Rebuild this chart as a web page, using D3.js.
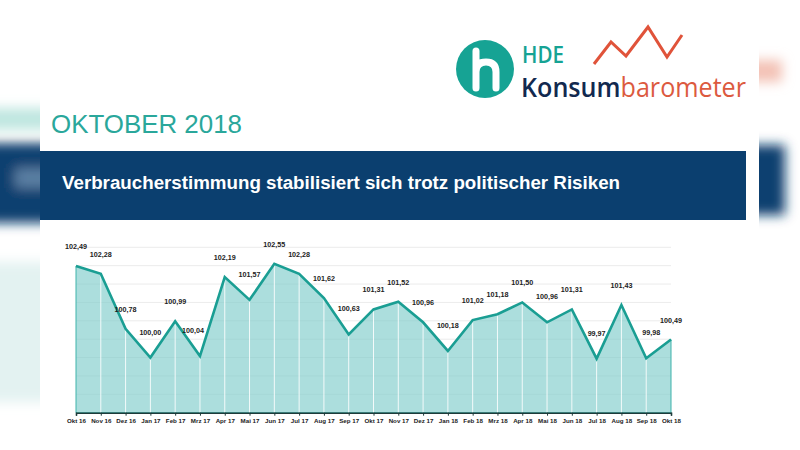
<!DOCTYPE html>
<html><head><meta charset="utf-8">
<script src="https://cdn.jsdelivr.net/npm/d3@7"></script>
<style>html,body{margin:0;padding:0;background:#fff;}svg{display:block;}</style>
</head><body>
<svg id="c" width="800" height="450"></svg>
<script>
const months = ["Okt 16","Nov 16","Dez 16","Jan 17","Feb 17","Mrz 17","Apr 17","Mai 17","Jun 17","Jul 17","Aug 17","Sep 17","Okt 17","Nov 17","Dez 17","Jan 18","Feb 18","Mrz 18","Apr 18","Mai 18","Jun 18","Jul 18","Aug 18","Sep 18","Okt 18"];
const values = [102.49,102.28,100.78,100.00,100.99,100.04,102.19,101.57,102.55,102.28,101.62,100.63,101.31,101.52,100.96,100.18,101.02,101.18,101.50,100.96,101.31,99.97,101.43,99.98,100.49];
const gridTicks = [99,99.5,100,100.5,101,101.5,102,102.5,103];
const headline = "OKTOBER 2018";
const bannerText = "Verbraucherstimmung stabilisiert sich trotz politischer Risiken";

const svg = d3.select("#c");
const defs = svg.append("defs");
defs.append("filter").attr("id","blur").attr("x","-50%").attr("y","-50%").attr("width","200%").attr("height","200%")
  .append("feGaussianBlur").attr("stdDeviation",6);

// blurred side margins (background photo edges)
const side = svg.append("g");
defs.append("clipPath").attr("id","leftClip").append("rect").attr("x",0).attr("y",0).attr("width",40).attr("height",450);
defs.append("clipPath").attr("id","rightClip").append("rect").attr("x",759).attr("y",0).attr("width",41).attr("height",450);
const L = side.append("g").attr("clip-path","url(#leftClip)").append("g").attr("filter","url(#blur)");
L.append("rect").attr("x",-30).attr("y",108).attr("width",90).attr("height",22).attr("fill","#bfe6e0");
L.append("rect").attr("x",-30).attr("y",143).attr("width",90).attr("height",80).attr("fill","#0b3f6f");
L.append("rect").attr("x",15).attr("y",168).attr("width",40).attr("height",20).attr("fill","#5a7fa3");
L.append("rect").attr("x",-30).attr("y",262).attr("width",90).attr("height",140).attr("fill","#e3f2f1");
const R = side.append("g").attr("clip-path","url(#rightClip)").append("g").attr("filter","url(#blur)");
R.append("rect").attr("x",740).attr("y",60).attr("width",42).attr("height",22).attr("fill","#f3c2b6");
R.append("rect").attr("x",740).attr("y",145).attr("width",45).attr("height",70).attr("fill","#0b3f6f");

// header
svg.append("text").attr("x",51).attr("y",133).attr("font-family","Liberation Sans, Arial, sans-serif")
  .attr("font-size",25).attr("fill","#2aa79b").attr("textLength",191).attr("lengthAdjust","spacingAndGlyphs").text(headline);

svg.append("rect").attr("x",40).attr("y",151).attr("width",706).attr("height",69).attr("fill","#0b3f6f");
svg.append("text").attr("x",62).attr("y",189).attr("font-family","Liberation Sans, Arial, sans-serif")
  .attr("font-weight","bold").attr("font-size",18).attr("fill","#fff")
  .attr("textLength",558).attr("lengthAdjust","spacingAndGlyphs").text(bannerText);

// logo
const logo = svg.append("g");
logo.append("circle").attr("cx",485).attr("cy",69).attr("r",29).attr("fill","#16a394");
logo.append("path").attr("d","M476,51 L476,88 M476,72 Q476,62 486,62 Q496,62 496,72 L496,88")
  .attr("fill","none").attr("stroke","#fff").attr("stroke-width",7).attr("stroke-linecap","round");
logo.append("text").attr("x",522).attr("y",63).attr("font-family","Open Sans, sans-serif").attr("font-size",23)
  .attr("font-weight",600).attr("fill","#16a394").attr("textLength",42).attr("lengthAdjust","spacingAndGlyphs").text("HDE");
logo.append("path").attr("d","M594,64 L611,42 L626,56 L648,27 L667,57 L682,35")
  .attr("fill","none").attr("stroke","#e0533a").attr("stroke-width",3);
const kt = logo.append("text").attr("x",521).attr("y",97).attr("font-family","Open Sans, sans-serif").attr("font-size",27)
  .attr("font-weight",600).attr("textLength",225).attr("lengthAdjust","spacingAndGlyphs");
kt.append("tspan").attr("fill","#12294f").text("Konsum");
kt.append("tspan").attr("fill","#dc5a3f").attr("font-weight",400).text("barometer");

// chart
const x = d3.scalePoint().domain(months).range([76,671]);
const y = d3.scaleLinear().domain([98.5,103]).range([412.7,247.3]);
const data = months.map((m,i)=>({m, v: values[i], i}));

const g = svg.append("g");
g.selectAll("line.grid").data(gridTicks).join("line").attr("class","grid")
  .attr("x1",76).attr("x2",671).attr("y1",d=>y(d)).attr("y2",d=>y(d))
  .attr("stroke","#e6e6e6").attr("stroke-width",0.8);

const area = d3.area().x(d=>x(d.m)).y0(y(98.5)).y1(d=>y(d.v));
g.append("path").datum(data).attr("d",area).attr("fill","#7fcccb").attr("fill-opacity",0.65)
  .attr("stroke","#3fb3ab").attr("stroke-width",1);

g.selectAll("line.drop").data(data.slice(1,-1)).join("line").attr("class","drop")
  .attr("x1",d=>x(d.m)).attr("x2",d=>x(d.m)).attr("y1",d=>y(d.v)+1).attr("y2",y(98.5))
  .attr("stroke","#ffffff").attr("stroke-opacity",0.85).attr("stroke-width",1);

const line = d3.line().x(d=>x(d.m)).y(d=>y(d.v));
g.append("path").datum(data).attr("d",line).attr("fill","none").attr("stroke","#1a9e93").attr("stroke-width",2.6)
  .attr("stroke-linejoin","miter");

// x axis
const ax = g.append("g").attr("transform",`translate(0,${y(98.5)})`)
  .call(d3.axisBottom(x).tickSize(3).tickPadding(3));
ax.select(".domain").attr("stroke","#1d3b3a").attr("stroke-width",1.6);
ax.selectAll(".tick line").attr("stroke","#1d3b3a").attr("stroke-width",1);
ax.selectAll(".tick text").attr("font-family","Liberation Sans, Arial, sans-serif").attr("font-size",6.2)
  .attr("font-weight","bold").attr("fill","#222");

// value labels (valleys lifted and nudged away from the steeper side)
const fmt = v => v.toFixed(2).replace(".",",");
const isValley = d => d.i > 0 && d.i < values.length-1 && d.v < values[d.i-1] && d.v < values[d.i+1];
const nudge = d => {
  if (!isValley(d)) return 0;
  const diff = (values[d.i+1] - d.v) - (values[d.i-1] - d.v);
  return Math.abs(diff) > 0.8 ? (diff > 0 ? -7 : 5) : 0;
};
g.selectAll("text.val").data(data).join("text").attr("class","val")
  .attr("x",d=>x(d.m) + nudge(d)).attr("y",d=>y(d.v) - (isValley(d) ? 23 : 17))
  .attr("text-anchor","middle").attr("font-family","Liberation Sans, Arial, sans-serif")
  .attr("font-size",7.2).attr("font-weight","bold").attr("fill","#222").text(d=>fmt(d.v));
</script>
</body></html>
